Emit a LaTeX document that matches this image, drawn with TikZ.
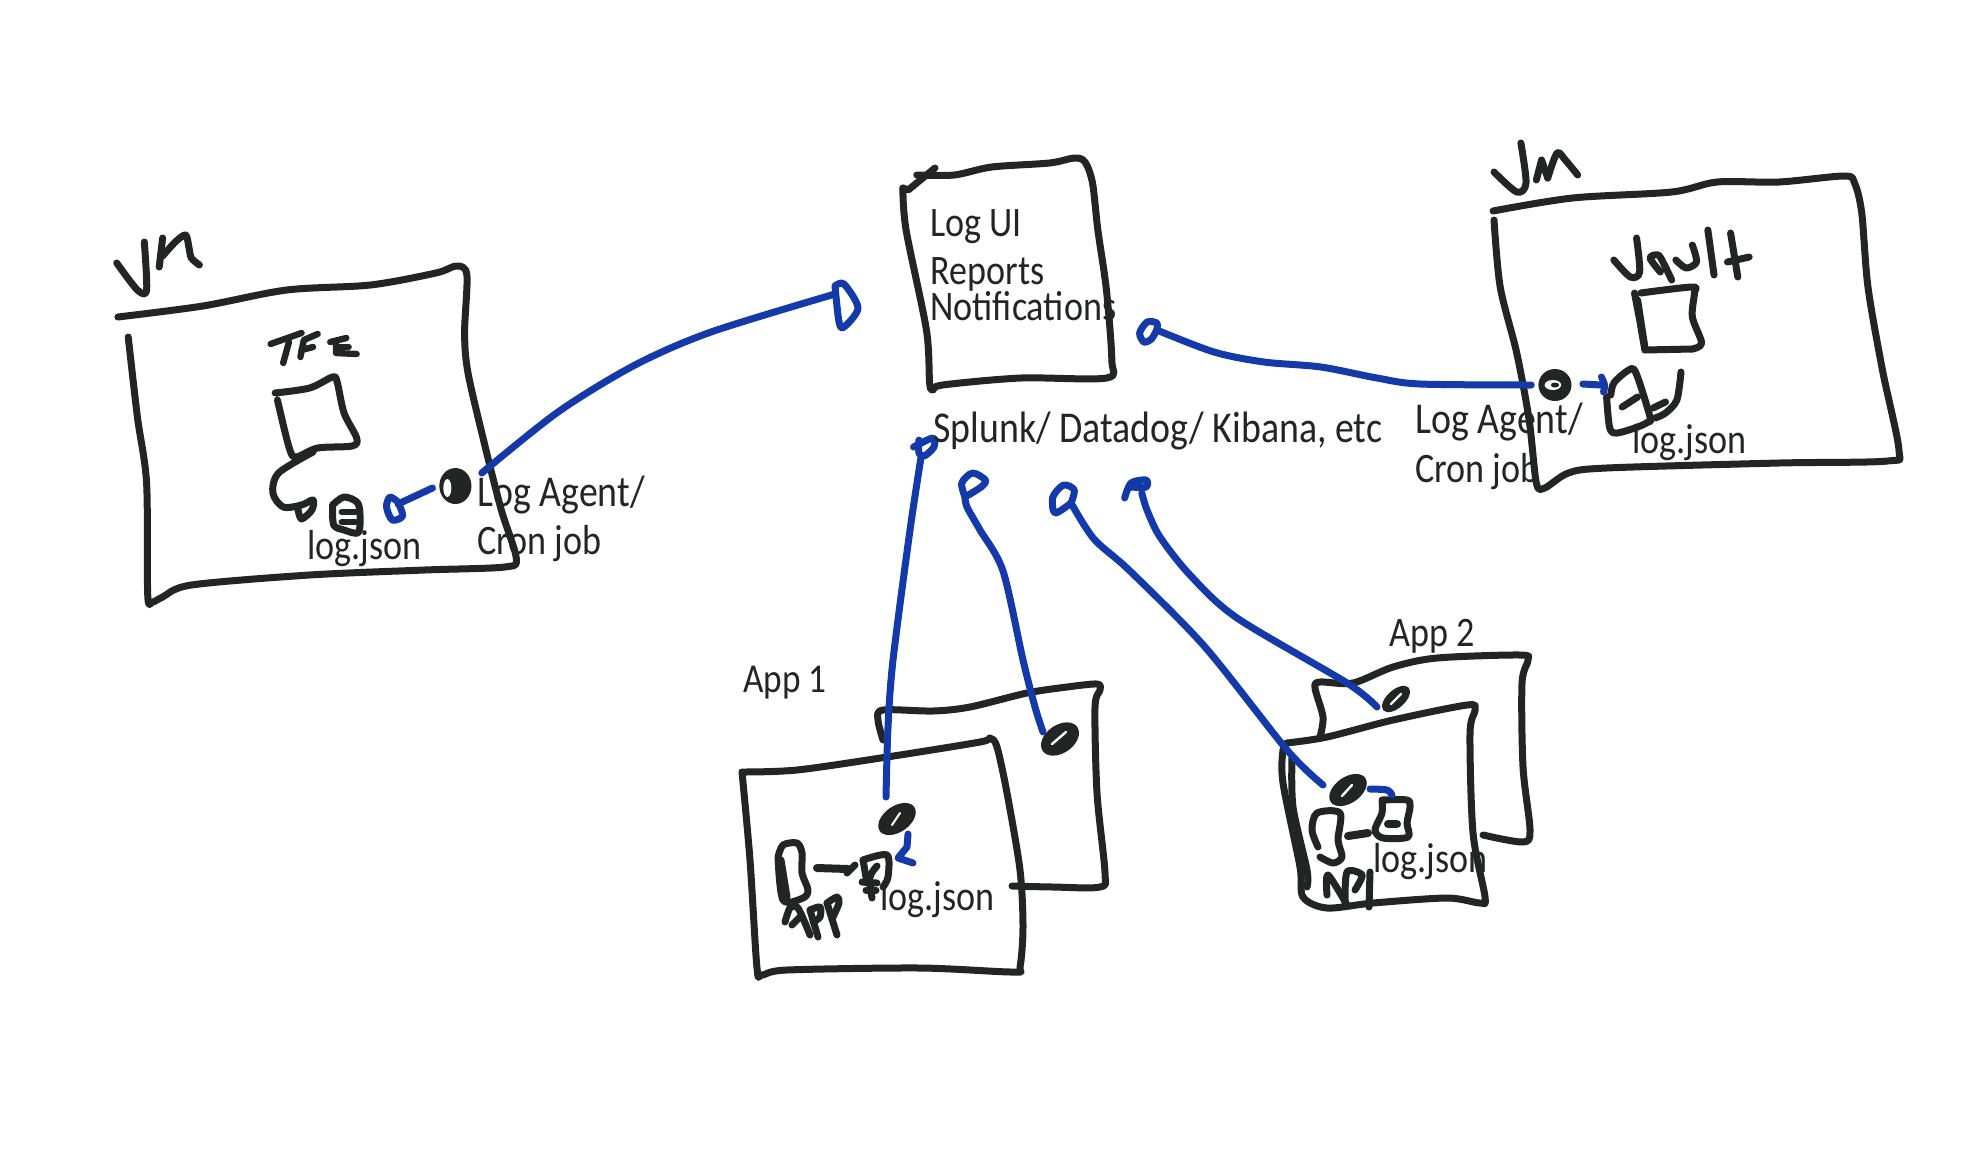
\documentclass[tikz,border=0pt]{standalone}
\usepackage{fontspec}
\setmainfont{Carlito}[FakeStretch=0.86]
\definecolor{ink}{HTML}{232524}
\definecolor{inkblue}{HTML}{1439A8}
\tikzset{
  pen/.style={draw=ink,line width=3.5pt,line cap=round,line join=round},
  thin pen/.style={draw=ink,line width=3.2pt,line cap=round,line join=round},
  link/.style={draw=inkblue,line width=3.5pt,line cap=round,line join=round},
  lbl/.style={anchor=base west,inner sep=0pt,text=ink,font=\fontsize{21}{23}\selectfont},
  wide lbl/.style={lbl,font=\fontsize{22}{24}\selectfont},
}
\newcommand{\skc}[2]{\draw[#1] plot[smooth,tension=0.5] coordinates {#2};}
\newcommand{\stl}[2]{\draw[#1] plot coordinates {#2};}
\begin{document}
\begin{tikzpicture}[x=0.5pt,y=-0.5pt]
\useasboundingbox (0,0) rectangle (1980,1152);
\fill[white] (0,0) rectangle (1980,1152);

%% ---- left VM
\begin{scope}[shift={(80,0)},xscale=1.148,shift={(-80,0)}]
\skc{pen}{(122,337) (130,417) (138,483) (139,595) (143,602) (152,597) (177,585) (280,575) (380,570) (450,567) (460,558) (447,510) (433,447) (418,373) (415,333) (417,275) (408,266) (390,273) (333,285) (260,290) (187,306) (113,317)}
\skc{pen}{(112,263) (130,290) (138,290) (136,242)}
\stl{pen}{(149,267) (152,238)}
\skc{pen}{(152,256) (163,242) (172,235) (175,248) (177,258) (184,265)}
% TFE
\stl{thin pen}{(246,344) (273,333)}
\stl{thin pen}{(262,342) (257,363)}
\stl{thin pen}{(272,357) (275,340) (287,334)}
\stl{thin pen}{(273,350) (283,347)}
\stl{thin pen}{(298,342) (312,338)}
\stl{thin pen}{(303,343) (303,353) (321,354)}
\stl{thin pen}{(305,347) (314,347)}
% small box
\skc{pen}{(250,393) (280,388) (300,377) (304,382) (310,413) (321,438) (317,446) (287,448) (268,457) (262,447) (252,400)}
\skc{pen}{(283,452) (253,473) (248,493) (257,507) (273,505) (283,500) (282,510) (273,519) (270,510)}
% file
\skc{pen}{(300,505) (310,497) (322,503) (324,520) (322,533) (310,530) (301,525) (300,505)}
\stl{thin pen}{(308,512) (320,512)}
\stl{thin pen}{(308,522) (320,522)}
\skc{link}{(357,502) (361,516) (352,520) (347,507) (350,497) (357,502)}
\coordinate (agentAin) at (387,488);
\coordinate (loopA) at (357,504);
\draw[link] (loopA) -- (agentAin);
\fill[ink] (407,486) ellipse (14 and 18);
\fill[white] (400,488) ellipse (3.5 and 9);
\coordinate (agentAout) at (430,473);
\end{scope}
\node[lbl] (logjsonA) at (307,559) {log.json};
\node[wide lbl] (agentA) at (477,506) {Log Agent/};
\node[lbl] (cronA) at (477,554) {Cron job};
\coordinate (uiA) at (835,294);
\skc{link}{(agentAout) (558,412) (635,365) (711,332) (uiA)}
\skc{link}{(835,286) (844,284) (858,308) (844,327) (839,322) (835,286)}

%% ---- Log UI
\begin{scope}[shift={(860,0)},xscale=1.0714,shift={(-860,0)}]
\stl{pen}{(900,188) (905,190) (930,168)}
\skc{pen}{(900,188) (903,230) (922,330) (925,383) (928,390) (937,385) (1010,378) (1090,378) (1095,360) (1090,290) (1082,230) (1077,183) (1070,162) (1060,158) (1037,163) (983,167) (948,175) (913,175)}
\coordinate (uiB) at (1137,330);
\coordinate (uiC) at (917,457);
\coordinate (uiD) at (958,497);
\coordinate (uiE) at (1057,503);
\coordinate (uiF) at (1123,493);
\skc{link}{(1137,330) (1137,323) (1128,322) (1121,333) (1125,342) (1132,339) (1137,330)}
\skc{link}{(910,447) (928,438) (929,447) (920,456) (915,453) (915,440)}
\skc{link}{(958,497) (955,483) (965,473) (977,480) (973,487) (958,497)}
\skc{link}{(1057,503) (1042,513) (1040,497) (1050,485) (1060,490) (1057,503)}
\skc{link}{(1107,498) (1113,483) (1127,480) (1127,487) (1113,487)}
\end{scope}
\node[lbl] (logui) at (930,236) {Log UI};
\node[lbl] (reports) at (930,284) {Reports};
\node[lbl] (notif) at (930,320) {Notifications};
\node[wide lbl] (splunk) at (933,442) {Splunk/ Datadog/ Kibana, etc};

%% ---- right VM
\begin{scope}[shift={(1400,0)},xscale=1.033,shift={(-1400,0)}]
\skc{pen}{(1491,220) (1497,287) (1513,353) (1525,420) (1532,483) (1540,488) (1563,473) (1600,468) (1767,463) (1872,461) (1883,450) (1867,370) (1853,287) (1847,213) (1840,183) (1830,176) (1767,182) (1707,182) (1663,192) (1567,198) (1490,211)}
\skc{pen}{(1491,172) (1513,192) (1522,183) (1517,143)}
\stl{pen}{(1532,180) (1537,160) (1543,178)}
\skc{pen}{(1543,178) (1552,153) (1560,160) (1572,175)}
\skc{pen}{(1607,260) (1623,277) (1632,272) (1629,238)}
\skc{pen}{(1652,272) (1642,258) (1650,255) (1656,265) (1663,280)}
\skc{pen}{(1667,260) (1677,268) (1687,262) (1683,245)}
\stl{pen}{(1698,230) (1704,275)}
\stl{pen}{(1720,233) (1727,277)}
\stl{pen}{(1717,262) (1738,257)}
\stl{pen}{(1627,293) (1632,320) (1637,350) (1683,349)}
\skc{pen}{(1683,349) (1692,343) (1683,317) (1685,293) (1683,287) (1633,293)}
\draw[pen] (1630,300) -- (1637,347);
\fill[ink] (1550,385) circle (16);
\fill[white] (1548,385) ellipse (8 and 5);
\fill[ink] (1550,385) ellipse (4 and 2.5);
\skc{pen}{(1604,395) (1607,383) (1620,371) (1628,372) (1642,417) (1640,422) (1630,427) (1610,433) (1603,428) (1600,397)}
\stl{pen}{(1615,407) (1630,397)}
\skc{pen}{(1672,372) (1668,400) (1657,413) (1647,418)}
\stl{pen}{(1645,408) (1657,402)}
\stl{link}{(1577,384) (1595,385)}
\skc{link}{(1595,377) (1598,385) (1597,392)}
\coordinate (agentBout) at (1527,385);
\end{scope}
\node[wide lbl] (agentB) at (1415,433) {Log Agent/};
\node[lbl] (cronB) at (1415,482) {Cron job};
\node[lbl] (logjsonB) at (1632,453) {log.json};
\skc{link}{(agentBout) (1420,384) (1377,378) (1321,367) (1264,362) (1214,352) (uiB)}

%% ---- App 1
\node[lbl,font=\fontsize{20.5}{22}\selectfont] (appone) at (743,692) {App 1};
\skc{pen}{(883,740) (878,720) (883,710) (933,711) (970,707) (1027,693) (1067,687) (1097,684) (1100,690) (1095,707) (1097,793) (1105,873) (1100,887) (1053,887) (1012,886)}
\skc{pen}{(742,772) (797,770) (887,757) (980,742) (990,738) (997,747) (1007,793) (1020,870) (1023,927) (1020,967) (1013,972) (920,968) (787,970) (762,975) (757,968) (750,860) (742,772)}
\fill[ink,shift={(897,819)},rotate=35] (0,0) ellipse (21 and 13);
\draw[white,line width=1pt,line cap=round] (892,825) -- (900,813);
\fill[ink,shift={(1060,739)},rotate=35] (0,0) ellipse (21 and 14);
\draw[white,line width=1.2pt,line cap=round] (1052,744) -- (1066,732);
\skc{pen}{(778,857) (783,845) (797,843) (802,853) (802,873) (808,890) (803,898) (783,900) (778,857)}
\draw[pen] (781,860) -- (787,897);
\draw[pen,line width=4pt] (817,868) -- (848,869);
\stl{pen}{(855,865) (847,873)}
\skc{pen}{(863,860) (887,855) (888,877) (883,887)}
\stl{pen}{(863,860) (867,883)}
\skc{pen}{(877,866) (870,877) (872,898)}
\stl{pen}{(862,882) (877,883)}
\stl{pen}{(866,890) (876,890)}
\node[lbl] (logjsonC) at (880,910) {log.json};
\skc{pen}{(785,922) (790,908) (798,908) (810,935)}
\stl{pen}{(792,925) (800,917)}
\stl{pen}{(810,910) (818,937)}
\skc{pen}{(810,910) (820,907) (820,917) (813,922)}
\stl{pen}{(827,903) (837,935)}
\skc{pen}{(827,903) (837,897) (839,903) (833,917)}
% blue
\stl{link}{(908,834) (907,847) (898,858) (913,863)}
\coordinate (agentC) at (886,797);
\skc{link}{(agentC) (888,727) (893,660) (910,530) (uiC)}
\coordinate (agentD) at (1043,732);
\skc{link}{(agentD) (1035,707) (1023,660) (1003,571) (980,530) (967,507) (uiD)}

%% ---- App 2
\node[lbl] (apptwo) at (1389,646) {App 2};
\skc{pen}{(1320,737) (1323,717) (1315,688) (1320,682) (1353,683) (1393,667) (1437,658) (1520,655) (1528,660) (1522,683) (1523,767) (1530,830) (1523,842) (1483,835)}
\skc{pen}{(1287,743) (1327,737) (1393,720) (1467,705) (1475,710) (1470,733) (1473,833) (1485,897) (1480,903) (1447,898) (1373,903) (1327,908) (1303,897) (1300,867) (1283,783) (1283,750) (1287,743)}
\skc{pen}{(1292,757) (1293,807) (1307,870) (1307,887)}
\fill[ink,shift={(1396,699)},rotate=42] (0,0) ellipse (17 and 9);
\draw[white,line width=1.2pt,line cap=round] (1391,704) -- (1401,694);
\fill[ink,shift={(1348,790)},rotate=35] (0,0) ellipse (21 and 13);
\draw[white,line width=1.2pt,line cap=round] (1342,796) -- (1352,785);
\skc{pen}{(1318,847) (1312,830) (1317,813) (1340,813) (1338,840) (1342,857) (1333,863) (1320,857)}
\draw[pen,line width=4pt] (1348,836) -- (1368,833);
\skc{pen}{(1382,800) (1407,800) (1410,807) (1407,823) (1408,837) (1383,838) (1375,830) (1382,813) (1382,800)}
\draw[pen,line width=4pt] (1388,824) -- (1397,824);
\skc{pen}{(1327,895) (1328,875) (1347,905)}
\skc{pen}{(1345,903) (1347,872) (1362,875) (1355,890)}
\stl{pen}{(1370,872) (1369,907)}
\node[lbl] (logjsonD) at (1373,872) {log.json};
\skc{link}{(1370,789) (1387,790) (1392,795)}
\coordinate (agentE) at (1323,785);
\skc{link}{(agentE) (1287,750) (1205,647) (1130,571) (1094,539) (uiE)}
\coordinate (agentF) at (1377,707);
\skc{link}{(agentF) (1347,683) (1237,618) (1190,575) (1160,537) (1147,510) (uiF)}
\end{tikzpicture}
\end{document}
